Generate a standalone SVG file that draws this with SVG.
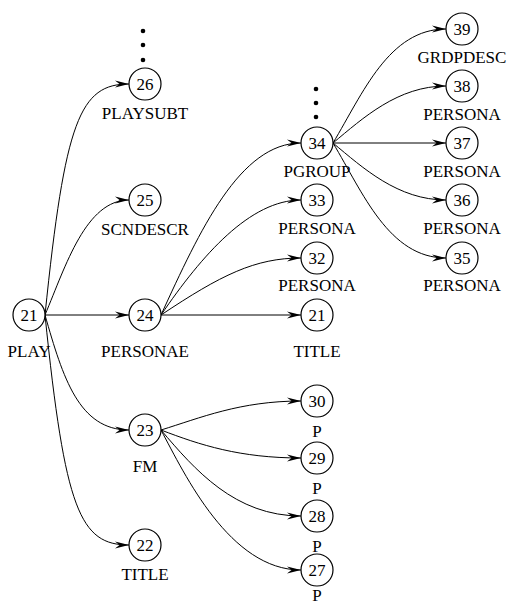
<svg xmlns="http://www.w3.org/2000/svg" width="517" height="606" viewBox="0 0 517 606">
  <style>
    .node circle { fill: #fff; stroke: #000; stroke-width: 1.2; }
    .num { font-family: "Liberation Serif", "Times New Roman", serif; font-size: 17px; text-anchor: middle; fill: #000; }
    .lbl { font-family: "Liberation Serif", "Times New Roman", serif; font-size: 17px; text-anchor: middle; fill: #000; }
    .edges path { fill: none; stroke: #000; stroke-width: 1; marker-end: url(#arrow); }
    .dots circle { fill: #000; }
  </style>
  <defs>
    <marker id="arrow" markerUnits="userSpaceOnUse" markerWidth="16" markerHeight="10" viewBox="-14 -5 15 10" refX="0" refY="0" orient="auto">
      <path d="M0,0 L-14,-3.6 L-9.5,0 L-14,3.6 Z" fill="#000"/>
    </marker>
  </defs>

  <rect width="517" height="606" fill="#fff"/>

  <!-- connectors -->
  <g id="edges" class="edges">
    <!-- from PLAY (21) -->
    <path d="M45,315 C65,120 80,84 129,84"/>
    <path d="M45,315 C66,265 86,200 129,200"/>
    <path d="M45,315 L129,315"/>
    <path d="M45,315 C63,378 79,430 129,430"/>
    <path d="M45,315 C65,510 80,545 129,545"/>
    <!-- from PERSONAE (24) -->
    <path d="M161,315 C200,230 240,143 301,143"/>
    <path d="M161,315 C202,255 250,200 301,200"/>
    <path d="M161,315 C221,275 255,258 301,258"/>
    <path d="M161,315 L301,315"/>
    <!-- from PGROUP (34) -->
    <path d="M333,143 C363,93 389,29 446,29"/>
    <path d="M333,143 C363,118 398,86 446,86"/>
    <path d="M333,143 L446,143"/>
    <path d="M333,143 C363,168 398,200 446,200"/>
    <path d="M333,143 C363,193 389,258 446,258"/>
    <!-- from FM (23) -->
    <path d="M161,430 C200,418 240,401 301,401"/>
    <path d="M161,430 C200,445 240,458 301,458"/>
    <path d="M161,430 C195,470 235,516 301,516"/>
    <path d="M161,430 C185,475 230,570 301,570"/>
  </g>

  <!-- ellipsis marks above nodes -->
  <g class="dots">
    <circle cx="143" cy="31" r="2.3"/>
    <circle cx="143" cy="45" r="2.3"/>
    <circle cx="143" cy="60" r="2.3"/>
    <circle cx="316" cy="89" r="2.3"/>
    <circle cx="316" cy="103" r="2.3"/>
    <circle cx="316" cy="117" r="2.3"/>
  </g>

  <!-- nodes -->
  <g id="n21-play" class="node"><circle cx="29" cy="315" r="16"/><text class="num" x="29" y="321">21</text><text class="lbl" x="29" y="357">PLAY</text></g>
  <g id="n26" class="node"><circle cx="145" cy="84" r="16"/><text class="num" x="145" y="90">26</text><text class="lbl" x="145" y="119">PLAYSUBT</text></g>
  <g id="n25" class="node"><circle cx="145" cy="200" r="16"/><text class="num" x="145" y="206">25</text><text class="lbl" x="145" y="235">SCNDESCR</text></g>
  <g id="n24" class="node"><circle cx="145" cy="315" r="16"/><text class="num" x="145" y="321">24</text><text class="lbl" x="145" y="357">PERSONAE</text></g>
  <g id="n23" class="node"><circle cx="145" cy="430" r="16"/><text class="num" x="145" y="436">23</text><text class="lbl" x="145" y="472">FM</text></g>
  <g id="n22" class="node"><circle cx="145" cy="545" r="16"/><text class="num" x="145" y="551">22</text><text class="lbl" x="145" y="580">TITLE</text></g>

  <g id="n34" class="node"><circle cx="317" cy="143" r="16"/><text class="num" x="317" y="149">34</text><text class="lbl" x="317" y="177">PGROUP</text></g>
  <g id="n33" class="node"><circle cx="317" cy="200" r="16"/><text class="num" x="317" y="206">33</text><text class="lbl" x="317" y="234">PERSONA</text></g>
  <g id="n32" class="node"><circle cx="317" cy="258" r="16"/><text class="num" x="317" y="264">32</text><text class="lbl" x="317" y="291">PERSONA</text></g>
  <g id="n21-title" class="node"><circle cx="317" cy="315" r="16"/><text class="num" x="317" y="321">21</text><text class="lbl" x="317" y="357">TITLE</text></g>
  <g id="n30" class="node"><circle cx="317" cy="401" r="16"/><text class="num" x="317" y="407">30</text><text class="lbl" x="317" y="437">P</text></g>
  <g id="n29" class="node"><circle cx="317" cy="458" r="16"/><text class="num" x="317" y="464">29</text><text class="lbl" x="317" y="494">P</text></g>
  <g id="n28" class="node"><circle cx="317" cy="516" r="16"/><text class="num" x="317" y="522">28</text><text class="lbl" x="317" y="552">P</text></g>
  <g id="n27" class="node"><circle cx="317" cy="570" r="16"/><text class="num" x="317" y="576">27</text><text class="lbl" x="317" y="601">P</text></g>

  <g id="n39" class="node"><circle cx="462" cy="29" r="16"/><text class="num" x="462" y="35">39</text><text class="lbl" x="462" y="63">GRDPDESC</text></g>
  <g id="n38" class="node"><circle cx="462" cy="86" r="16"/><text class="num" x="462" y="92">38</text><text class="lbl" x="462" y="120">PERSONA</text></g>
  <g id="n37" class="node"><circle cx="462" cy="143" r="16"/><text class="num" x="462" y="149">37</text><text class="lbl" x="462" y="177">PERSONA</text></g>
  <g id="n36" class="node"><circle cx="462" cy="200" r="16"/><text class="num" x="462" y="206">36</text><text class="lbl" x="462" y="234">PERSONA</text></g>
  <g id="n35" class="node"><circle cx="462" cy="258" r="16"/><text class="num" x="462" y="264">35</text><text class="lbl" x="462" y="291">PERSONA</text></g>
</svg>
